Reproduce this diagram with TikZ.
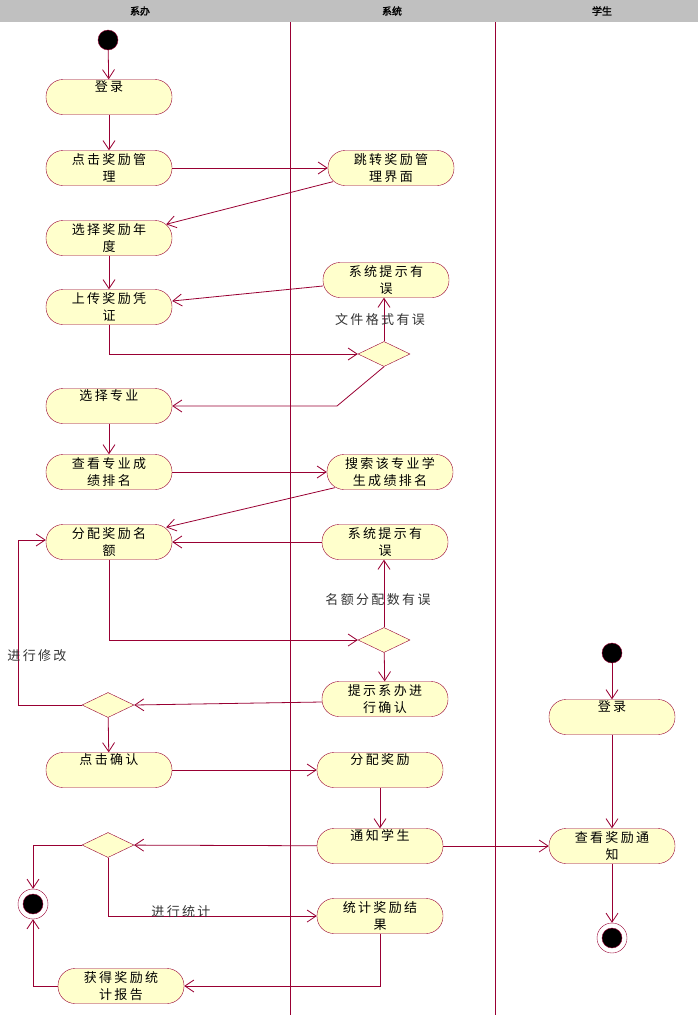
\documentclass[tikz,border=0pt]{standalone}
\usepackage{fontspec}
\newfontfamily\cjk[LetterSpace=18]{Noto Sans CJK SC}
\newfontfamily\cjkhead[FakeBold=2]{Noto Sans CJK SC}
\usetikzlibrary{arrows.meta,shapes.geometric}
\definecolor{umlline}{RGB}{153,0,51}
\definecolor{umlfill}{RGB}{255,255,204}
\definecolor{lanegray}{RGB}{192,192,192}

\begin{document}
\begin{tikzpicture}[x=1pt, y=-1pt,
    act/.style={draw=umlline, fill=umlfill, rounded corners=17pt,
        minimum width=126pt, minimum height=35pt, inner sep=0pt,
        align=center, font=\cjk\fontsize{13}{17}\selectfont},
    choice/.style={diamond, draw=umlline, fill=umlfill, aspect=2.1,
        minimum width=52pt, minimum height=25pt, inner sep=0pt},
    initial/.style={circle, draw=umlline, fill=black, minimum size=20pt, inner sep=0pt},
    final/.style={circle, draw=umlline, fill=white, minimum size=30pt, inner sep=0pt,
        path picture={\filldraw[draw=umlline, fill=black]
            (path picture bounding box.center) circle(10pt);}},
    flow/.style={draw=umlline, line width=0.8pt,
        -{Straight Barb[length=9pt, width=12pt]}},
    guard/.style={font=\cjk\fontsize{13}{15}\selectfont, text=black!80}]

    \useasboundingbox (0,0) rectangle (698,1015);

    % swimlanes
    \fill[lanegray] (0,0) rectangle (698,22);
    \foreach \x in {290,495}
        \draw[umlline, line width=0.8pt] (\x,22) -- (\x,1015);
    \foreach \x/\lane in {140/系办, 392/系统, 602/学生}
        \node[font=\cjkhead\fontsize{10}{10}\selectfont] at (\x,11) {\lane};

    % 系办
    \node[initial] (start1) at (108,40) {};
    \node[act] (login)    at (109,97)  {登录\\\strut};
    \node[act] (clickmgr) at (109,168) {点击奖励管\\理};
    \node[act] (year)     at (109,238) {选择奖励年\\度};
    \node[act] (upload)   at (109,307) {上传奖励凭\\证};
    \node[act] (major)    at (109,406) {选择专业\\\strut};
    \node[act] (viewrank) at (109,472) {查看专业成\\绩排名};
    \node[act] (quota)    at (109,542) {分配奖励名\\额};
    \node[choice] (dec2)  at (108,705) {};
    \node[act] (confirm)  at (109,770) {点击确认\\\strut};
    \node[choice] (dec3)  at (108,845) {};
    \node[final] (end1)   at (33,904)  {};
    \node[act] (report)   at (121,986) {获得奖励统\\计报告};

    % 系统
    \node[act] (jump)     at (391,168) {跳转奖励管\\理界面};
    \node[act] (err1)     at (386,280) {系统提示有\\误};
    \node[choice] (dec1)  at (384,354) {};
    \node[act] (search)   at (390,472) {搜索该专业学\\生成绩排名};
    \node[act] (err2)     at (385,542) {系统提示有\\误};
    \node[choice] (decq)  at (384,640) {};
    \node[act] (prompt)   at (385,699) {提示系办进\\行确认};
    \node[act] (assign)   at (380,770) {分配奖励\\\strut};
    \node[act] (notify)   at (380,846) {通知学生\\\strut};
    \node[act] (stat)     at (380,916) {统计奖励结\\果};

    % 学生
    \node[initial] (start2) at (612,653) {};
    \node[act] (login2)   at (612,717) {登录\\\strut};
    \node[act] (view)     at (612,846) {查看奖励通\\知};
    \node[final] (end2)   at (612,938) {};

    \coordinate (bend1) at (337,406);
    \coordinate (bend2) at (18,705);

    % flows
    \draw[flow] (start1) -- (login);
    \draw[flow] (login) -- (clickmgr);
    \draw[flow] (clickmgr) -- (jump);
    \draw[flow] ([xshift=5pt,yshift=4pt]jump.south west) -- ([xshift=-6pt,yshift=-4pt]year.north east);
    \draw[flow] (year) -- (upload);
    \draw[flow] ([yshift=-6pt]err1.west) -- ([yshift=6pt]upload.east);
    \draw[flow] (upload.south) |- (dec1.west);
    \draw[flow] (dec1.north) -- (dec1.north |- err1.south);
    \node[guard] (g1) at (380,320) {文件格式有误};
    \draw[flow] (dec1.south) -- (bend1) -- (major.east);
    \draw[flow] (major) -- (viewrank);
    \draw[flow] (viewrank) -- (search);
    \draw[flow] ([xshift=8pt,yshift=2pt]search.south west) -- ([xshift=-6pt,yshift=-3pt]quota.north east);
    \draw[flow] (err2) -- (quota);
    \draw[flow] (quota.south) |- (decq.west);
    \draw[flow] (decq.north) -- (decq.north |- err2.south);
    \node[guard] (g2) at (378,600) {名额分配数有误};
    \draw[flow] (decq) -- (prompt);
    \draw[flow] ([yshift=-3pt]prompt.west) -- (dec2.east);
    \draw[flow] (dec2.west) -- (bend2) |- ([yshift=2pt]quota.west);
    \node[guard] (g3) at (37,656) {进行修改};
    \draw[flow] (dec2) -- (confirm);
    \draw[flow] (confirm) -- (assign);
    \draw[flow] (assign) -- (notify);
    \draw[flow] (notify) -- (dec3);
    \draw[flow] (notify) -- (view);
    \draw[flow] (dec3.west) -| (end1.north);
    \draw[flow] (dec3.south) |- (stat.west);
    \node[guard] (g4) at (181,912) {进行统计};
    \draw[flow] (stat.south) |- (report.east);
    \draw[flow] (report.west) -| (end1.south);
    \draw[flow] (start2) -- (login2);
    \draw[flow] (login2) -- (view);
    \draw[flow] (view) -- (end2);
\end{tikzpicture}
\end{document}
